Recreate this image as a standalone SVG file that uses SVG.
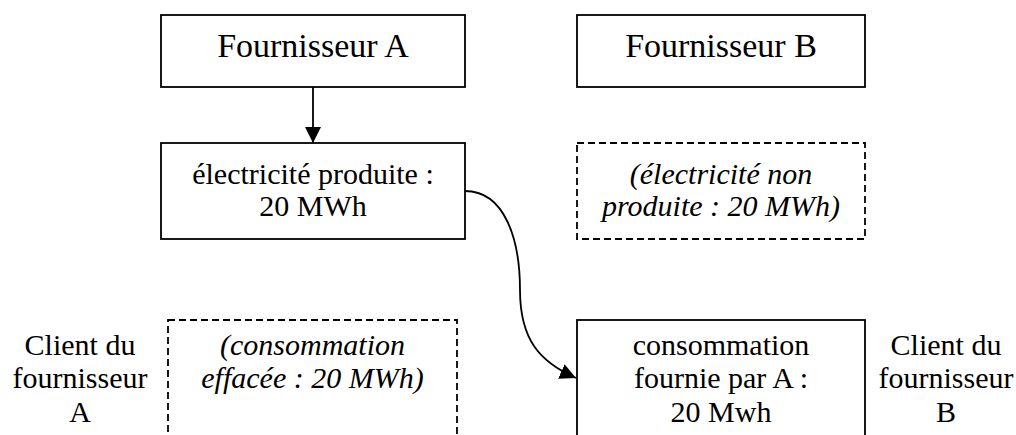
<svg xmlns="http://www.w3.org/2000/svg" width="1016" height="435" viewBox="0 0 1016 435" font-family="'Liberation Serif', 'DejaVu Serif', serif">
<style>
.box{fill:#fff;stroke:#000;stroke-width:1.8}
.dash{fill:#fff;stroke:#000;stroke-width:1.8;stroke-dasharray:7 4}
text{font-family:'Liberation Serif', 'DejaVu Serif', serif;fill:#000;text-anchor:middle}
.t{font-size:30px}
.h{font-size:34px}
.i{font-size:30px;font-style:italic}
.conn{fill:none;stroke:#000;stroke-width:1.8}
</style>
<defs>
<marker id="arr" viewBox="0 0 16 16" refX="16" refY="8" markerWidth="16" markerHeight="16" markerUnits="userSpaceOnUse" orient="auto">
<path d="M0,0 L16,8 L0,16 z" fill="#000"/>
</marker>
</defs>
<g id="fournisseurA">
<rect class="box" x="161" y="15" width="304" height="72"/>
<text class="h" x="313" y="57">Fournisseur A</text>
</g>
<g id="fournisseurB">
<rect class="box" x="577" y="15" width="288" height="72"/>
<text class="h" x="721" y="57">Fournisseur B</text>
</g>
<g id="elecProduite">
<rect class="box" x="161" y="143" width="304" height="96"/>
<text class="t" x="313" y="184">électricité produite :</text>
<text class="t" x="313" y="216">20 MWh</text>
</g>
<g id="elecNonProduite">
<rect class="dash" x="577" y="143" width="288" height="96"/>
<text class="i" x="721" y="184">(électricité non</text>
<text class="i" x="721" y="216">produite : 20 MWh)</text>
</g>
<g id="clientA">
<text class="t" x="80" y="355">Client du</text>
<text class="t" x="80" y="388">fournisseur</text>
<text class="t" x="80" y="422">A</text>
</g>
<g id="consoEffacee">
<rect class="dash" x="168" y="320" width="289" height="130"/>
<text class="i" x="312.5" y="355">(consommation</text>
<text class="i" x="312.5" y="388">effacée : 20 MWh)</text>
</g>
<g id="consoFournie">
<rect class="box" x="577" y="320" width="288" height="130"/>
<text class="t" x="721" y="355">consommation</text>
<text class="t" x="721" y="388">fournie par A :</text>
<text class="t" x="721" y="422">20 Mwh</text>
</g>
<g id="clientB">
<text class="t" x="946" y="355">Client du</text>
<text class="t" x="946" y="388">fournisseur</text>
<text class="t" x="946" y="422">B</text>
</g>
<g id="connectors">
<path class="conn" d="M313,87 L313,143" marker-end="url(#arr)"/>
<path class="conn" d="M465,191 C505,191 520,240 520,290 C520,340 540,362 576,378" marker-end="url(#arr)"/>
</g>
</svg>
